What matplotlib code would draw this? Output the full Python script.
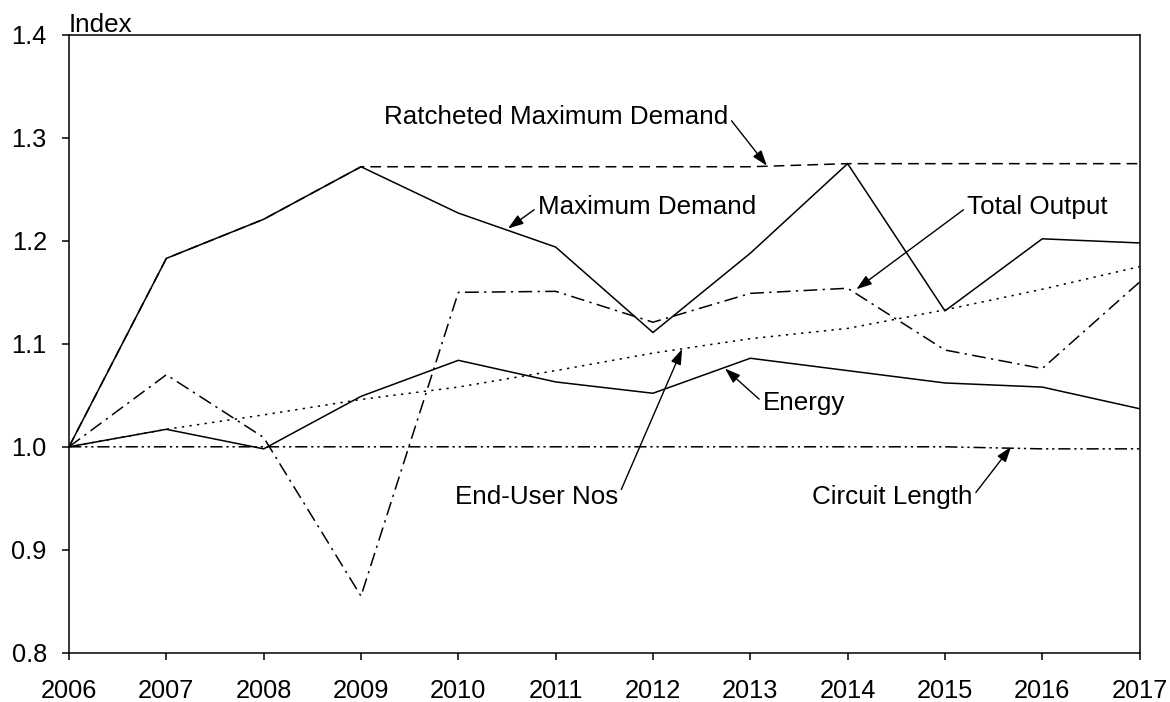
import matplotlib.pyplot as plt

plt.rcParams['font.family'] = ['Liberation Sans', 'DejaVu Sans']

years = [2006, 2007, 2008, 2009, 2010, 2011, 2012, 2013, 2014, 2015, 2016, 2017]

# index values
max_demand = [1.000, 1.183, 1.221, 1.272, 1.227, 1.194, 1.111, 1.188, 1.275, 1.132, 1.202, 1.198]
ratcheted = [1.000, 1.183, 1.221, 1.272, 1.272, 1.272, 1.272, 1.272, 1.275, 1.275, 1.275, 1.275]
energy = [1.000, 1.017, 0.998, 1.049, 1.084, 1.063, 1.052, 1.086, 1.074, 1.062, 1.058, 1.037]
end_users = [1.000, 1.017, 1.031, 1.046, 1.058, 1.074, 1.091, 1.105, 1.115, 1.133, 1.153, 1.175]
total_output = [1.000, 1.070, 1.009, 0.855, 1.150, 1.151, 1.121, 1.149, 1.154, 1.094, 1.076, 1.160]
circuit_len = [1.000, 1.000, 1.000, 1.000, 1.000, 1.000, 1.000, 1.000, 1.000, 1.000, 0.998, 0.998]

fig = plt.figure(figsize=(11.7, 7.02), dpi=100)
ax = fig.add_axes([0.059, 0.0702, 0.915, 0.880])

ax.plot(years, ratcheted, color='black', lw=1.1, linestyle=(0, (7, 4)))
ax.plot(years, max_demand, color='black', lw=1.1)
ax.plot(years, energy, color='black', lw=1.1)
ax.plot(years, end_users, color='black', lw=1.1, linestyle=(0, (1.5, 3.5)))
ax.plot(years, total_output, color='black', lw=1.1, linestyle=(0, (9, 3.5, 1.5, 3.5)))
ax.plot(years, circuit_len, color='black', lw=1.1, linestyle=(0, (8, 2.5, 1.5, 2.5, 1.5, 2.5)))

ax.set_xlim(2006, 2017)
ax.set_ylim(0.8, 1.4)
ax.set_xticks(years)
ax.set_yticks([0.8, 0.9, 1.0, 1.1, 1.2, 1.3, 1.4])
ax.set_yticklabels(['0.8', '0.9', '1.0', '1.1', '1.2', '1.3', '1.4'])
ax.tick_params(axis='both', labelsize=18.3, direction='out', length=5, width=1.1)
ax.tick_params(axis='y', pad=11)
ax.tick_params(axis='x', pad=14)
for s in ax.spines.values():
    s.set_linewidth(1.1)

ax.text(0.0, 1.004, 'Index', transform=ax.transAxes, fontsize=18.7, ha='left', va='baseline')

arrow = dict(arrowstyle='-|>,head_length=0.5,head_width=0.17', color='black', lw=1.0,
             shrinkA=1, shrinkB=0)

def label(txt, xy, xytext, ha, rel):
    ap = dict(arrow)
    ap['relpos'] = rel
    ax.annotate(txt, xy=xy, xytext=xytext, ha=ha, va='center', fontsize=18.7, arrowprops=ap)

label('Ratcheted Maximum Demand', (2013.17, 1.273), (2012.77, 1.320), 'right', (1, 0.55))
label('Maximum Demand', (2010.51, 1.212), (2010.82, 1.233), 'left', (0, 0.5))
label('Total Output', (2014.09, 1.153), (2015.23, 1.233), 'left', (0, 0.5))
label('Energy', (2012.74, 1.076), (2013.13, 1.043), 'left', (0, 0.5))
label('End-User Nos', (2012.30, 1.095), (2011.64, 0.951), 'right', (1, 0.5))
label('Circuit Length', (2015.68, 1.000), (2015.28, 0.951), 'right', (1, 0.5))

fig.savefig('out.png', dpi=100)
